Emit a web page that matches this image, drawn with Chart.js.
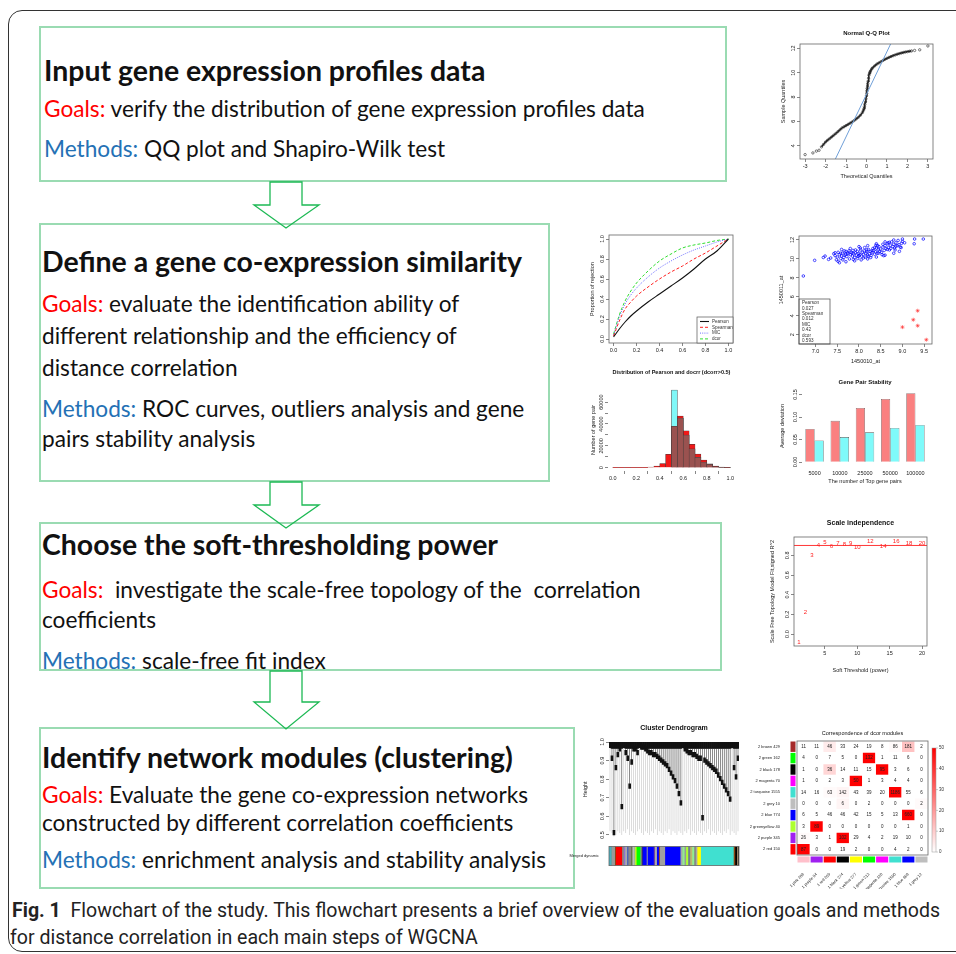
<!DOCTYPE html>
<html>
<head>
<meta charset="utf-8">
<script src="https://cdn.jsdelivr.net/npm/chart.js@4.4.1/dist/chart.umd.min.js"></script>
<style>
  body { margin: 0; background: #fff; width: 956px; height: 954px; position: relative; overflow: hidden; }
  .frame { position: absolute; left: 8px; top: 10px; width: 980px; height: 942px; border: 1.3px solid #333; border-radius: 14px; box-sizing: border-box; }
  .box { position: absolute; border: 2px solid #9adbb2; box-sizing: border-box; }
  .t { position: absolute; white-space: pre; line-height: 30px; font-family: Lato, "Open Sans", sans-serif; color: #111; }
  .h { font-weight: 700; font-size: 26px; }
  .b { font-size: 20px; }
  .g { color: #ff0000; }
  .m { color: #2471b5; }
  .c { position: absolute; }
  .cap { position: absolute; white-space: pre; font-family: Roboto, sans-serif; font-size: 21px; color: #222; line-height: 26px; transform-origin: 0 0; }
</style>
</head>
<body>
<div class="frame"></div>
<div class="box" style="left:39px;top:26px;width:688px;height:156px"></div>
<div class="box" style="left:39px;top:223px;width:511px;height:259px"></div>
<div class="box" style="left:39px;top:522px;width:683px;height:149px"></div>
<div class="box" style="left:39px;top:727px;width:536px;height:162px"></div>

<svg style="position:absolute;left:0;top:0" width="956" height="954">
  <g fill="none" stroke="#1db954" stroke-width="1.3">
    <polygon points="270,182 302,182 302,205 319,205 286,228 254,205 270,205"/>
    <polygon points="270,482 302,482 302,505 319,505 286,528 254,505 270,505"/>
    <polygon points="270,671 302,671 302,702 319,702 286,729 254,702 270,702"/>
  </g>
</svg>

<div class="t h" style="left:44px;top:55px" data-w="452">Input gene expression profiles data</div>
<div class="t b" style="left:44px;top:94px" data-w="601"><span class="g">Goals:</span> verify the distribution of gene expression profiles data</div>
<div class="t b" style="left:44px;top:134px" data-w="397"><span class="m">Methods:</span> QQ plot and Shapiro-Wilk test</div>

<div class="t h" style="left:42px;top:246px" data-w="474">Define a gene co-expression similarity</div>
<div class="t b" style="left:42px;top:289px" data-w="419"><span class="g">Goals:</span> evaluate the identification ability of</div>
<div class="t b" style="left:42px;top:321px" data-w="417">different relationship and the efficiency of</div>
<div class="t b" style="left:42px;top:353px" data-w="196">distance correlation</div>
<div class="t b" style="left:42px;top:394px" data-w="478"><span class="m">Methods:</span> ROC curves, outliers analysis and gene</div>
<div class="t b" style="left:42px;top:424px" data-w="233">pairs stability analysis</div>

<div class="t h" style="left:42px;top:529px" data-w="450">Choose the soft-thresholding power</div>
<div class="t b" style="left:42px;top:575px" data-w="598"><span class="g">Goals:</span>  investigate the scale-free topology of the  correlation</div>
<div class="t b" style="left:42px;top:605px" data-w="113">coefficients</div>
<div class="t b" style="left:42px;top:646px" data-w="282"><span class="m">Methods:</span> scale-free fit index</div>

<div class="t h" style="left:42px;top:742px" data-w="471">Identify network modules (clustering)</div>
<div class="t b" style="left:42px;top:780px" data-w="484"><span class="g">Goals:</span> Evaluate the gene co-expression networks</div>
<div class="t b" style="left:42px;top:808px" data-w="475">constructed by different correlation coefficients</div>
<div class="t b" style="left:42px;top:845px" data-w="507"><span class="m">Methods:</span> enrichment analysis and stability analysis</div>

<div class="cap" id="cap1" style="left:12px;top:897px"><b>Fig. 1</b>  Flowchart of the study. This flowchart presents a brief overview of the evaluation goals and methods</div>
<div class="cap" id="cap2" style="left:10px;top:924px">for distance correlation in each main steps of WGCNA</div>

<script>
// ---------------- data ----------------
// Normal Q-Q plot
const qqTheo = [-3.0, -2.62, -2.45, -2.32, -2.2, -2.1, -2.0, -1.9, -1.8, -1.7, -1.6, -1.5, -1.4, -1.3, -1.2, -1.1, -1.0, -0.9, -0.8, -0.7,
  -0.6, -0.5, -0.4, -0.3, -0.2, -0.15, -0.12, -0.1, -0.08, -0.05, -0.03, 0.0, 0.01, 0.02, 0.03, 0.05, 0.06, 0.08, 0.1, 0.12,
  0.15, 0.17, 0.2, 0.25, 0.3, 0.4, 0.5, 0.6, 0.7, 0.8, 0.9, 1.0, 1.1, 1.2, 1.3, 1.4, 1.5, 1.6, 1.7, 1.8,
  1.9, 2.0, 2.1, 2.2, 2.35, 2.6, 3.0];
const qqSample = [3.26, 3.4, 3.55, 3.62, 3.9, 4.1, 4.3, 4.45, 4.58, 4.72, 4.86, 5.0, 5.15, 5.3, 5.45, 5.55, 5.65, 5.75, 5.85, 5.95,
  6.07, 6.2, 6.33, 6.5, 6.72, 6.9, 7.05, 7.2, 7.4, 7.6, 7.85, 8.1, 8.3, 8.5, 8.7, 8.9, 9.1, 9.3, 9.55, 9.8,
  9.95, 10.05, 10.15, 10.3, 10.4, 10.56, 10.7, 10.8, 10.9, 11.0, 11.1, 11.18, 11.26, 11.33, 11.4, 11.46, 11.52, 11.57, 11.62, 11.66,
  11.7, 11.73, 11.76, 11.79, 11.83, 11.88, 12.2];
const qqLineX = [-1.52, 1.21];
const qqLineY = [2.9, 12.47];
const qqXTicks = [-3, -2, -1, 0, 1, 2, 3];
const qqYTicks = [4, 6, 8, 10, 12];

// ROC curves
const rocFpr = [0, 0.05, 0.1, 0.15, 0.2, 0.3, 0.4, 0.5, 0.6, 0.7, 0.8, 0.9, 1.0];
const rocPearson = [0.02, 0.1, 0.17, 0.23, 0.28, 0.37, 0.45, 0.53, 0.61, 0.7, 0.8, 0.88, 1.0];
const rocSpearman = [0.03, 0.18, 0.3, 0.37, 0.43, 0.52, 0.6, 0.67, 0.73, 0.8, 0.86, 0.93, 1.0];
const rocMIC = [0.04, 0.22, 0.35, 0.44, 0.51, 0.62, 0.71, 0.78, 0.84, 0.89, 0.93, 0.97, 1.0];
const rocDcor = [0.05, 0.24, 0.38, 0.48, 0.56, 0.68, 0.78, 0.85, 0.91, 0.94, 0.96, 0.985, 1.0];
const unitTicks = [0, 0.2, 0.4, 0.6, 0.8, 1.0];

// outlier scatter
const blueX = [6.72, 6.98, 7.18, 7.22, 7.3, 7.35, 7.42, 7.45, 7.48, 7.5, 7.52, 7.55, 7.58, 7.6, 7.62, 7.65, 7.68, 7.7, 7.72, 7.75,
  7.78, 7.8, 7.82, 7.85, 7.86, 7.88, 7.9, 7.92, 7.94, 7.96, 7.98, 8.0, 8.02, 8.04, 8.06, 8.08, 8.1, 8.12, 8.14, 8.16,
  8.18, 8.2, 8.22, 8.24, 8.26, 8.28, 8.3, 8.32, 8.34, 8.36, 8.38, 8.4, 8.42, 8.44, 8.46, 8.48, 8.5, 8.52, 8.55, 8.58,
  8.6, 8.62, 8.65, 8.68, 8.7, 8.72, 8.75, 8.78, 8.8, 8.82, 8.85, 8.88, 8.9, 8.92, 8.95, 8.98, 9.0, 9.05, 9.27, 9.28,
  9.48, 7.58, 7.74, 7.92, 8.1, 8.3, 8.45, 8.55, 8.65, 7.66, 7.84, 8.0, 8.18, 8.36, 8.7, 8.85,
  7.55, 7.7, 7.9, 8.05, 8.2, 8.4, 8.6, 8.8, 7.6, 7.8, 8.0, 8.2, 8.4, 8.6, 8.8, 9.0,
  7.45, 7.63, 7.77, 7.97, 8.13, 8.27, 8.43, 8.57, 8.73, 8.93, 7.52, 7.69, 7.87, 8.03, 8.21, 8.39, 8.53, 8.67, 8.83, 8.97];
const blueY = [8.2, 9.85, 10.15, 10.3, 9.95, 10.1, 10.55, 10.35, 9.9, 10.2, 10.7, 10.45, 10.05, 10.3, 10.6, 10.15, 10.4, 10.8, 10.25, 10.55,
  10.0, 10.45, 10.7, 10.3, 10.9, 10.55, 10.15, 10.65, 10.4, 10.8, 10.25, 10.6, 10.45, 10.95, 10.3, 10.7, 10.5, 10.85, 10.2, 10.6,
  10.75, 10.4, 11.0, 10.55, 10.8, 10.35, 10.65, 11.1, 10.9, 10.5, 10.75, 11.15, 10.6, 10.95, 11.3, 10.8, 11.05, 10.7, 11.25, 10.9,
  11.4, 11.1, 11.6, 11.2, 10.95, 11.45, 11.8, 11.3, 11.55, 11.15, 11.7, 11.4, 11.95, 11.5, 11.25, 11.65, 11.85, 11.7, 11.6, 12.1,
  12.1, 10.6, 10.65, 10.95, 10.1, 10.85, 10.6, 11.55, 11.0, 10.85, 10.6, 10.35, 10.95, 11.2, 11.75, 11.35,
  9.6, 9.7, 9.8, 9.9, 10.0, 10.2, 10.4, 10.6, 11.0, 11.1, 11.3, 11.4, 11.6, 11.8, 12.0, 12.1,
  10.65, 9.9, 10.85, 10.05, 11.2, 10.15, 11.4, 10.35, 11.1, 10.8, 9.75, 10.5, 9.95, 11.15, 10.25, 11.45, 10.45, 11.7, 10.95, 11.2];
const redX = [9.0, 9.25, 9.35, 9.35, 9.55];
const redY = [2.8, 3.58, 4.53, 2.95, 1.47];
const corrText = ['Pearson', '0.027', 'Spearman', '0.012', 'MIC', '0.42', 'dcor', '0.593'];
const scXTicks = [7.0, 7.5, 8.0, 8.5, 9.0, 9.5];
const scYTicks = [2, 4, 6, 8, 10, 12];

// histogram of Pearson and dcor (bins of 0.05)
const histMid = [0.025, 0.075, 0.125, 0.175, 0.225, 0.275, 0.325, 0.375, 0.425, 0.475,
  0.525, 0.575, 0.625, 0.675, 0.725, 0.775, 0.825, 0.875, 0.925, 0.975];
const histPearson = [100, 100, 100, 100, 100, 100, 500, 1500, 3900, 12200, 37900, 47200, 33700, 21500, 12500, 6900, 3600, 1500, 500, 100];
const histDcor = [0, 0, 0, 0, 0, 0, 0, 0, 0, 0, 71000, 45500, 29900, 17300, 9500, 5100, 3000, 1000, 300, 50];
const histYTicks = [0, 10000, 20000, 30000, 40000, 50000, 60000];

// gene pair stability
const stabLabels = ['5000', '10000', '25000', '50000', '100000'];
const stabRed = [0.0735, 0.0915, 0.12, 0.14, 0.153];
const stabCyan = [0.048, 0.0555, 0.066, 0.0757, 0.0825];
const stabYTicks = [0, 0.05, 0.10, 0.15];

// scale independence
const sftPower = [1, 2, 3, 4, 5, 6, 7, 8, 9, 10, 12, 14, 16, 18, 20];
const sftR2 = [-0.079, 0.222, 0.8, 0.899, 0.93, 0.896, 0.917, 0.91, 0.917, 0.883, 0.94, 0.893, 0.944, 0.924, 0.924];
const sftCut = 0.9;
const sftXTicks = [5, 10, 15, 20];
const sftYTicks = [0, 0.2, 0.4, 0.6, 0.8];

// cluster dendrogram
const dendroMerge = [0.97, 0.9, 0.5, 0.85, 0.92, 0.95, 0.64, 0.97, 0.93, 0.9,
  0.75, 0.88, 0.95, 0.95, 0.93, 0.97, 0.96, 0.96, 0.95, 0.94,
  0.93, 0.93, 0.92, 0.92, 0.91, 0.9, 0.89, 0.88, 0.87, 0.86,
  0.84, 0.82, 0.8, 0.78, 0.75, 0.71, 0.66, 0.97, 0.95, 0.94,
  0.93, 0.93, 0.92, 0.92, 0.91, 0.9, 0.9, 0.58, 0.89, 0.88,
  0.87, 0.86, 0.85, 0.84, 0.83, 0.81, 0.79, 0.77, 0.75, 0.73,
  0.71, 0.68, 0.97, 0.85, 0.8, 0.9];
const leafLow = [0.52, 0.51, 0.49, 0.5, 0.52, 0.51, 0.5, 0.52, 0.51, 0.53,
  0.5, 0.52, 0.51, 0.5, 0.52, 0.53, 0.51, 0.5, 0.52, 0.51,
  0.5, 0.52, 0.51, 0.53, 0.5, 0.52, 0.51, 0.5, 0.52, 0.51,
  0.53, 0.5, 0.52, 0.51, 0.5, 0.52, 0.51, 0.5, 0.52, 0.51,
  0.53, 0.5, 0.52, 0.51, 0.5, 0.52, 0.51, 0.5, 0.52, 0.51,
  0.53, 0.5, 0.52, 0.51, 0.5, 0.52, 0.51, 0.5, 0.52, 0.51,
  0.53, 0.5, 0.52, 0.51, 0.5, 0.52];
const dendroYTicks = [0.5, 0.6, 0.7, 0.8, 0.9, 1.0];
const dynColors = ['#40b0c0', '#5f9ea0', '#999999', '#8b4513', '#ff0000', '#888888', '#9370db', '#aaaaaa', '#3050c0', '#888888',
  '#556b2f', '#bbbbbb', '#7fbf7f', '#ffff00', '#00ff00', '#999999', '#404040', '#0000ff', '#999999', '#0000ff',
  '#663399', '#aaaaaa', '#0000ff', '#a0522d', '#a0a0a0', '#0000ff', '#a0b0a0', '#90ee90', '#999999', '#adff2f',
  '#708090', '#bdb76b', '#90ee90', '#808080', '#a9a9a9', '#ffff00', '#40e0d0', '#8b4513', '#000000', '#d2b48c', '#000000'];
const dynWidths = [1.5, 1, 3, 1, 6, 2, 1, 2, 1, 3,
  1, 2, 1, 1, 4, 1, 1, 4, 1, 6,
  1, 2, 2, 1, 5, 15, 2, 2, 1.5, 2,
  2, 2, 2, 1.5, 1.5, 3.5, 32, 1.5, 2, 1, 1];

// module correspondence table
const rowLabels = ['2 brown 429', '2 green 162', '2 black 178', '2 magenta 70', '2 turquoise 1555', '2 grey 10', '2 blue 774', '2 greenyellow 40', '2 purple 345', '2 red 150'];
const rowColors = ['#a52a2a', '#00ff00', '#000000', '#ff00ff', '#40e0d0', '#bebebe', '#0000ff', '#adff2f', '#a020f0', '#ff0000'];
const colLabels = ['1 pink 288', '1 purple 94', '1 red 209', '1 black 274', '1 yellow 277', '1 green 212', '1 magenta 120', '1 turquoise 1500', '1 blue 868', '1 grey 12'];
const colColors = ['#ffc0cb', '#a020f0', '#ff0000', '#000000', '#ffff00', '#00ff00', '#ff00ff', '#40e0d0', '#0000ff', '#bebebe'];
const heatCounts = [
  [11, 11, 46, 33, 24, 19, 8, 86, 181, 2],
  [4, 0, 7, 5, 0, 132, 1, 11, 6, 0],
  [1, 0, 36, 14, 11, 15, 95, 3, 6, 0],
  [1, 0, 2, 3, 50, 1, 3, 4, 4, 0],
  [14, 16, 63, 142, 43, 39, 20, 1186, 55, 6],
  [0, 0, 0, 6, 0, 2, 0, 0, 0, 2],
  [6, 5, 46, 46, 42, 15, 5, 13, 660, 0],
  [3, 89, 0, 0, 0, 0, 0, 0, 1, 0],
  [26, 3, 1, 102, 29, 4, 2, 19, 10, 0],
  [87, 0, 0, 19, 2, 0, 0, 4, 2, 0]];
const heatLevel = [
  [0, 0, 4, 0, 0, 0, 0, 1, 12, 0],
  [0, 0, 0, 0, 0, 50, 0, 0, 0, 0],
  [0, 0, 8, 0, 0, 0, 50, 0, 0, 0],
  [0, 0, 0, 0, 50, 0, 0, 0, 0, 0],
  [0, 0, 1, 2, 0, 0, 0, 50, 0, 0],
  [0, 0, 0, 2, 0, 0, 0, 0, 0, 1],
  [0, 0, 0, 0, 0, 0, 0, 0, 50, 0],
  [0, 50, 0, 0, 0, 0, 0, 0, 0, 0],
  [1, 0, 0, 50, 0, 0, 0, 0, 0, 0],
  [50, 0, 0, 0, 0, 0, 0, 0, 0, 0]];
const heatMax = 50;
const keyTicks = [0, 10, 20, 30, 40, 50];

// ---------------- helpers ----------------
Chart.defaults.animation = false;
Chart.defaults.font.family = '"Liberation Sans", Arial, sans-serif';
Chart.defaults.font.size = 6;
Chart.defaults.color = '#222';
Chart.defaults.plugins.legend.display = false;
Chart.defaults.plugins.tooltip.enabled = false;

const FONT = '"Liberation Sans", Arial, sans-serif';
const TICK = 5.5;
const mctx = document.createElement('canvas').getContext('2d');
function textW(s, size) { mctx.font = size + 'px ' + FONT; return mctx.measureText(s).width; }

function makeChart(box, cfg) {
  const d = document.createElement('div');
  d.className = 'c';
  d.style.left = box[0] + 'px';
  d.style.top = box[1] + 'px';
  const cv = document.createElement('canvas');
  cv.width = box[2];
  cv.height = box[3];
  d.appendChild(cv);
  document.body.appendChild(d);
  cfg.options = Object.assign({ responsive: false, animation: false, devicePixelRatio: 1 }, cfg.options);
  return new Chart(cv, cfg);
}

// box = [left, top, w, h], area = plot region in page px
function layout(box, area, ytx, xty) {
  const [L, T, W, H] = box;
  const pl = ytx ? ytx - L - 3 : 2;
  const pb = xty ? T + H - xty - 3 : 1;
  return {
    padding: { left: pl, top: area[1] - T, right: L + W - area[2], bottom: pb },
    yw: area[0] - L - pl,
    xh: T + H - area[3] - pb
  };
}

function rAxis(min, max, ticks, title, size, fmt, vertical) {
  const label = v => (fmt ? fmt(v) : v);
  const ax = {
    type: 'linear', min, max,
    afterBuildTicks: a => { a.ticks = ticks.map(v => ({ value: v })); },
    afterFit: s => { if (s.isHorizontal()) s.height = size; else s.width = size; },
    ticks: { font: { size: TICK }, color: '#222', padding: 1, autoSkip: false, minRotation: 0, maxRotation: 0, callback: label },
    grid: { drawOnChartArea: false, drawTicks: true, tickLength: 3, color: '#555', lineWidth: 0.7 },
    border: { display: false },
    title: { display: !!title, text: title, font: { size: TICK }, color: '#222', padding: 0 }
  };
  if (vertical) {
    // R style: labels parallel to the axis, centred on their tick
    const widest = Math.max(...ticks.map(v => textW(String(label(v)), TICK)));
    ax.ticks.minRotation = 90;
    ax.ticks.maxRotation = 90;
    ax.ticks.crossAlign = 'center';
    ax.ticks.padding = 1 + TICK / 2 - widest / 2;
  }
  return ax;
}

const rbox = {
  id: 'rbox',
  afterDraw(chart) {
    const a = chart.chartArea, c = chart.ctx;
    c.save();
    c.strokeStyle = '#666';
    c.lineWidth = 0.8;
    c.strokeRect(a.left, a.top, a.right - a.left, a.bottom - a.top);
    c.restore();
  }
};

function rTitle(text, size, y, weight) {
  return {
    id: 'rtitle',
    afterDraw(chart) {
      const a = chart.chartArea, c = chart.ctx;
      c.save();
      c.font = (weight || 'bold') + ' ' + size + 'px ' + FONT;
      c.fillStyle = '#111';
      c.textAlign = 'center';
      c.textBaseline = 'middle';
      c.fillText(text, (a.left + a.right) / 2, y);
      c.restore();
    }
  };
}

const pts = (xs, ys) => xs.map((x, i) => ({ x, y: ys[i] }));
const f1 = v => v.toFixed(1);

// ---------------- Normal Q-Q plot ----------------
(function () {
  const box = [760, 20, 196, 170];
  const L = layout(box, [800, 44, 933, 159], 783, 177);
  makeChart(box, {
    type: 'scatter',
    data: { datasets: [
      { data: pts(qqLineX, qqLineY), showLine: true, borderColor: '#6f9fd8', borderWidth: 1, pointRadius: 0 },
      { data: pts(qqTheo, qqSample), showLine: true, borderWidth: 1.4, borderColor: '#222',
        segment: { borderColor: s => (s.p0.parsed.x < -2.25 || s.p1.parsed.x > 2.3) ? 'rgba(0,0,0,0)' : '#222' },
        pointRadius: 1.2, pointBorderWidth: 0.6, pointBorderColor: '#222', pointBackgroundColor: 'rgba(0,0,0,0)' }
    ] },
    options: {
      layout: { padding: L.padding },
      scales: {
        x: rAxis(-3.25, 3.25, qqXTicks, 'Theoretical Quantiles', L.xh),
        y: rAxis(2.9, 12.36, qqYTicks, 'Sample Quantiles', L.yw, null, true)
      }
    },
    plugins: [rbox, rTitle('Normal Q-Q Plot', 6, 13)]
  });
})();

// ---------------- ROC curves ----------------
const rocLegend = {
  id: 'rocLegend',
  afterDraw(chart) {
    const a = chart.chartArea, c = chart.ctx;
    const w = 36, h = 26, x = a.right - w, y = a.bottom - h;
    c.save();
    c.fillStyle = '#fff';
    c.fillRect(x, y, w, h);
    c.strokeStyle = '#555';
    c.lineWidth = 0.7;
    c.strokeRect(x, y, w, h);
    c.font = '4.5px ' + FONT;
    c.textBaseline = 'middle';
    chart.data.datasets.forEach((d, i) => {
      const yy = y + 4.5 + i * 5.8;
      c.strokeStyle = d.borderColor;
      c.lineWidth = d.borderWidth;
      c.setLineDash(d.borderDash || []);
      c.beginPath(); c.moveTo(x + 3, yy); c.lineTo(x + 12, yy); c.stroke();
      c.setLineDash([]);
      c.fillStyle = '#333';
      c.fillText(d.label, x + 15, yy);
    });
    c.restore();
  }
};

(function () {
  const box = [580, 225, 190, 140];
  const L = layout(box, [609, 235, 733, 343], 592, null);
  const line = (label, ys, color, dash, w) => ({ label, data: pts(rocFpr, ys), showLine: true, pointRadius: 0,
    borderColor: color, borderDash: dash, borderWidth: w, cubicInterpolationMode: 'monotone' });
  makeChart(box, {
    type: 'scatter',
    data: { datasets: [
      line('Pearson', rocPearson, '#111111', [], 1.1),
      line('Spearman', rocSpearman, '#ff2020', [3, 2], 1),
      line('MIC', rocMIC, '#7070ff', [1, 1.2], 1),
      line('dcor', rocDcor, '#30dd30', [3, 2], 1)
    ] },
    options: {
      layout: { padding: L.padding },
      scales: {
        x: rAxis(-0.04, 1.04, unitTicks, '', L.xh, f1),
        y: rAxis(-0.04, 1.04, unitTicks, 'Proportion of rejection', L.yw, f1, true)
      }
    },
    plugins: [rbox, rocLegend]
  });
})();

// ---------------- outlier scatter ----------------
const corrBox = {
  id: 'corrBox',
  afterDraw(chart) {
    const a = chart.chartArea, c = chart.ctx;
    const w = 31, h = 45, x = a.left, y = a.bottom - h;
    c.save();
    c.strokeStyle = '#444';
    c.lineWidth = 0.7;
    c.strokeRect(x, y, w, h);
    c.font = '4.6px ' + FONT;
    c.fillStyle = '#333';
    c.textBaseline = 'middle';
    corrText.forEach((s, i) => c.fillText(s, x + 3, y + 4 + i * 5.4));
    c.restore();
  }
};

(function () {
  const box = [770, 225, 186, 140];
  const L = layout(box, [799, 236, 932, 344], 781, 362);
  makeChart(box, {
    type: 'scatter',
    data: { datasets: [
      { data: pts(blueX, blueY), pointRadius: 1.3, pointBorderWidth: 0.7, pointBorderColor: '#0000ff', pointBackgroundColor: 'rgba(0,0,0,0)' },
      { data: pts(redX, redY), pointStyle: 'star', pointRadius: 2, pointBorderWidth: 0.6, pointBorderColor: '#ff3030' }
    ] },
    options: {
      layout: { padding: L.padding },
      scales: {
        x: rAxis(6.62, 9.68, scXTicks, '1450010_at', L.xh, f1),
        y: rAxis(1.02, 12.42, scYTicks, '1450011_at', L.yw, null, true)
      }
    },
    plugins: [rbox, corrBox]
  });
})();

// ---------------- histogram ----------------
(function () {
  const box = [580, 365, 190, 125];
  const L = layout(box, [608, 389, 735, 471], 593, null);
  const overlap = histPearson.map((v, i) => Math.min(v, histDcor[i]));
  const bars = (ys, color) => ({ data: pts(histMid, ys), backgroundColor: color, borderColor: '#3a3a3a', borderWidth: 0.5,
    barPercentage: 1, categoryPercentage: 1, grouped: false });
  makeChart(box, {
    type: 'bar',
    // first dataset is drawn last (on top)
    data: { datasets: [bars(overlap, '#9a5250'), bars(histPearson, '#f01818'), bars(histDcor, '#80f8f8')] },
    options: {
      layout: { padding: L.padding },
      scales: {
        x: Object.assign(rAxis(-0.04, 1.04, unitTicks, '', L.xh, f1), { offset: false }),
        y: rAxis(-3000, 72000, histYTicks, 'Number of gene pair', L.yw, v => (v % 20000 === 0 ? String(v) : ''), true)
      }
    },
    plugins: [rTitle('Distribution of Pearson and docrr (dcorr>0.5)', 5.5, 7)]
  });
})();

// ---------------- gene pair stability ----------------
(function () {
  const box = [770, 365, 186, 125];
  const L = layout(box, [802, 390, 928, 462], 782, 482);
  makeChart(box, {
    type: 'bar',
    data: { labels: stabLabels, datasets: [
      { data: stabRed, backgroundColor: '#fa8080', borderColor: '#555', borderWidth: 0.6, barPercentage: 1, categoryPercentage: 0.73 },
      { data: stabCyan, backgroundColor: '#7ffafa', borderColor: '#555', borderWidth: 0.6, barPercentage: 1, categoryPercentage: 0.73 }
    ] },
    options: {
      layout: { padding: L.padding },
      scales: {
        x: { afterFit: s => { s.height = L.xh; }, grid: { display: false }, border: { display: false },
          ticks: { font: { size: TICK }, color: '#222', padding: 0, maxRotation: 0 },
          title: { display: true, text: 'The number of Top gene pairs', font: { size: TICK }, color: '#222', padding: 0 } },
        y: rAxis(0, 0.16, stabYTicks, 'Average deviation', L.yw, v => v.toFixed(2), true)
      }
    },
    plugins: [rTitle('Gene Pair Stability', 6, 17)]
  });
})();

// ---------------- scale independence ----------------
const sftText = {
  id: 'sftText',
  afterDatasetsDraw(chart) {
    const c = chart.ctx;
    c.save();
    c.font = '6px ' + FONT;
    c.fillStyle = '#ff2020';
    c.textAlign = 'center';
    c.textBaseline = 'middle';
    chart.getDatasetMeta(1).data.forEach((p, i) => c.fillText(String(sftPower[i]), p.x, p.y));
    c.restore();
  }
};

(function () {
  const box = [750, 510, 206, 170];
  const L = layout(box, [794, 537, 927, 646], 772, 671);
  makeChart(box, {
    type: 'scatter',
    data: { datasets: [
      { data: [{ x: 0.24, y: sftCut }, { x: 20.76, y: sftCut }], showLine: true, borderColor: '#ff2020', borderWidth: 0.9, pointRadius: 0 },
      { data: pts(sftPower, sftR2), pointRadius: 0 }
    ] },
    options: {
      layout: { padding: L.padding },
      scales: {
        x: rAxis(0.24, 20.76, sftXTicks, 'Soft Threshold (power)', L.xh),
        y: rAxis(-0.121, 0.986, sftYTicks, 'Scale Free Topology Model Fit,signed R^2', L.yw, f1, true)
      }
    },
    plugins: [rbox, sftText, rTitle('Scale independence', 7, 13)]
  });
})();

// ---------------- cluster dendrogram ----------------
(function () {
  const box = [580, 700, 180, 140];
  const L = layout(box, [609, 742, 739, 838], 585, null);
  L.padding.bottom = 840 - 838;
  const bar = (data, color, w) => ({ data, backgroundColor: color, barPercentage: w, categoryPercentage: 1, grouped: false });
  makeChart(box, {
    type: 'bar',
    data: { labels: dendroMerge.map((_, i) => i), datasets: [
      bar(dendroMerge.map(m => [Math.max(m, 0.965), 1.0]), '#111', 1),   // dense top band
      bar(dendroMerge.map(m => [m, Math.min(m + 0.025, 1.0)]), '#111', 1), // merge arcs
      bar(dendroMerge.map(m => [m, 1.0]), '#3a3a3a', 0.3),                 // branches
      bar(leafLow.map((b, i) => [b, dendroMerge[i]]), '#c4c4c4', 0.3)     // hanging leaves
    ] },
    options: {
      layout: { padding: L.padding },
      scales: {
        x: { display: false },
        y: rAxis(0.49, 1.0, dendroYTicks, 'Height', L.yw, f1, true)
      }
    },
    plugins: [rTitle('Cluster Dendrogram', 7, 28)]
  });
})();

// ---------------- merged dynamic colour bar ----------------
(function () {
  const box = [568, 842, 192, 28];
  const total = dynWidths.reduce((s, v) => s + v, 0);
  makeChart(box, {
    type: 'bar',
    data: { labels: ['Merged dynamic'], datasets: dynColors.map((col, i) => ({ data: [dynWidths[i]], backgroundColor: col,
      borderWidth: 0, barPercentage: 1, categoryPercentage: 1 })) },
    options: {
      indexAxis: 'y',
      layout: { padding: { left: 1, top: 2, right: 760 - 739, bottom: 3 } },
      scales: {
        x: { display: false, stacked: true, min: 0, max: total },
        y: { stacked: true, afterFit: s => { s.width = 609 - 568 - 1; }, grid: { display: false }, border: { display: false },
          ticks: { font: { size: 4 }, color: '#222', padding: 2 } }
      }
    },
    plugins: [rbox]
  });
})();

// ---------------- module correspondence ----------------
const heatColor = v => { const k = Math.round(255 * (1 - v / heatMax)); return 'rgb(255,' + k + ',' + k + ')'; };

const heatDecor = {
  id: 'heatDecor',
  afterDraw(chart) {
    const c = chart.ctx, a = chart.chartArea, xs = chart.scales.x, ys = chart.scales.y;
    const rh = (a.bottom - a.top) / rowLabels.length;
    c.save();
    rowColors.forEach((col, i) => {
      c.fillStyle = col;
      c.fillRect(a.left - 6.5, ys.getPixelForValue(i) - rh / 2 + 0.5, 5, rh - 1);
    });
    colColors.forEach((col, j) => {
      const x0 = xs.getPixelForValue(j), x1 = xs.getPixelForValue(j + 1);
      c.fillStyle = col;
      c.fillRect(x0 + 0.5, a.bottom + 1.5, x1 - x0 - 1, 6);
    });
    c.font = '4.5px ' + FONT;
    c.fillStyle = '#222';
    c.textAlign = 'center';
    c.textBaseline = 'middle';
    chart.data.datasets.forEach((d, j) => chart.getDatasetMeta(j).data.forEach((el, i) => {
      c.fillText(String(heatCounts[i][j]), (el.x + el.base) / 2, el.y);
    }));
    // colour key
    const kx = a.right + 4, k0 = a.top + 7, k1 = a.bottom - 3;
    const g = c.createLinearGradient(0, k1, 0, k0);
    g.addColorStop(0, '#ffffff');
    g.addColorStop(1, '#ff0000');
    c.fillStyle = g;
    c.fillRect(kx, k0, 4, k1 - k0);
    c.strokeStyle = '#999';
    c.lineWidth = 0.5;
    c.strokeRect(kx, k0, 4, k1 - k0);
    c.fillStyle = '#333';
    c.textAlign = 'left';
    keyTicks.forEach(v => {
      const y = k1 - (k1 - k0) * v / heatMax;
      c.beginPath(); c.moveTo(kx + 4, y); c.lineTo(kx + 6, y); c.stroke();
      c.fillText(String(v), kx + 7, y);
    });
    c.restore();
  }
};

(function () {
  const box = [748, 700, 208, 190];
  const L = layout(box, [797, 741, 928, 855], null, null);
  makeChart(box, {
    type: 'bar',
    data: { labels: rowLabels, datasets: colLabels.map((_, j) => ({
      data: rowLabels.map(() => [j, j + 1]),
      backgroundColor: heatLevel.map(r => heatColor(r[j])),
      borderColor: '#ffffff', borderWidth: 0.8, barPercentage: 1, categoryPercentage: 1, grouped: false
    })) },
    options: {
      indexAxis: 'y',
      layout: { padding: L.padding },
      scales: {
        x: { type: 'linear', min: 0, max: colLabels.length,
          afterBuildTicks: a => { a.ticks = colLabels.map((_, j) => ({ value: j + 0.5 })); },
          afterFit: s => { s.height = L.xh; },
          grid: { display: false }, border: { display: false },
          ticks: { font: { size: 4 }, color: '#222', padding: 9, autoSkip: false, minRotation: 45, maxRotation: 45,
            callback: (v, i) => colLabels[i] } },
        y: { afterFit: s => { s.width = L.yw; }, grid: { display: false }, border: { display: false },
          ticks: { font: { size: 4 }, color: '#222', padding: 9, autoSkip: false } }
      }
    },
    plugins: [rbox, heatDecor, rTitle('Correspondence of dcor modules', 5.5, 33, 'normal')]
  });
})();

// ---------------- text fitting ----------------
function fitClass(sel, base) {
  const els = Array.from(document.querySelectorAll(sel));
  const r = els.map(e => +e.dataset.w / e.getBoundingClientRect().width).sort((a, b) => a - b);
  const k = r[Math.floor(r.length / 2)];
  els.forEach(e => { e.style.fontSize = (base * k).toFixed(2) + 'px'; });
}
fitClass('.t.h', 26);
fitClass('.t.b', 20);
(function () {
  const c1 = document.getElementById('cap1'), c2 = document.getElementById('cap2');
  const k = 928 / c1.getBoundingClientRect().width;
  c1.style.transform = 'scaleX(' + k + ')';
  c2.style.transform = 'scaleX(' + k + ')';
})();
</script>
</body>
</html>
